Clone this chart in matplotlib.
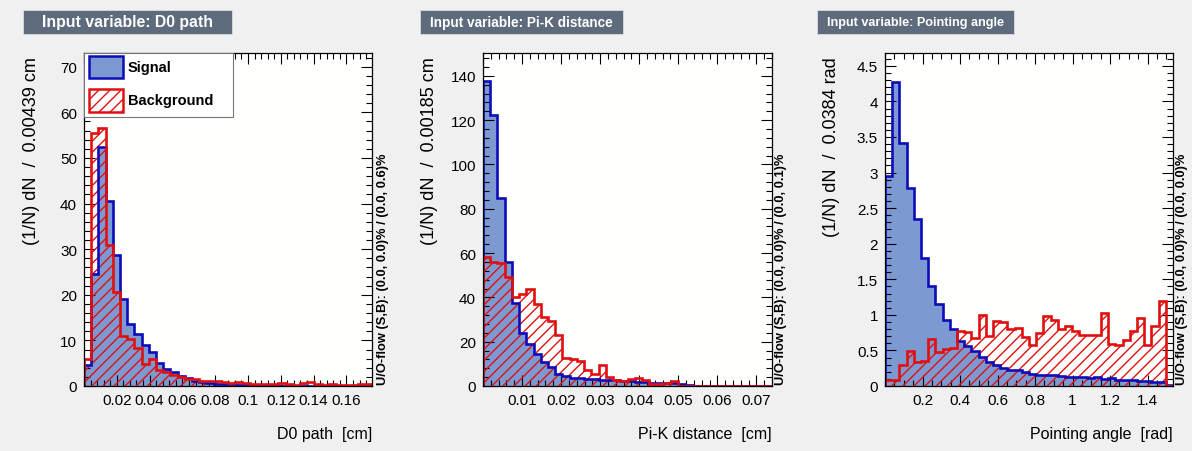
import numpy as np
import matplotlib
matplotlib.use("Agg")
import matplotlib.pyplot as plt
from matplotlib.patches import Rectangle
from matplotlib.ticker import MultipleLocator, FuncFormatter

plt.rcParams['font.family'] = ['Liberation Sans', 'DejaVu Sans']
plt.rcParams['hatch.linewidth'] = 1.0

# ---------------- data ----------------
titles = ["Input variable: D0 path", "Input variable: Pi-K distance",
          "Input variable: Pointing angle"]
xlabels = ["D0 path  [cm]", "Pi-K distance  [cm]", "Pointing angle  [rad]"]
ylabels = ["(1/N) dN  /  0.00439 cm", "(1/N) dN  /  0.00185 cm",
           "(1/N) dN  /  0.0384 rad"]
uoflow = ["U/O-flow (S,B): (0.0, 0.0)% / (0.0, 0.6)%",
          "U/O-flow (S,B): (0.0, 0.0)% / (0.0, 0.1)%",
          "U/O-flow (S,B): (0.0, 0.0)% / (0.0, 0.0)%"]
legend_labels = ["Signal", "Background"]

x_min = [0.0, 0.0, 0.0]
bin_width = [0.00439, 0.00185, 0.0384]

d0_signal = [4.5, 24.5, 52.5, 40.5, 28.7, 19, 13.6, 11.3, 9, 7.4,
             5.0, 3.8, 3.0, 2.3, 1.8, 1.2, 0.9, 0.7, 0.5, 0.5,
             0.4, 0.3, 0.3, 0.2, 0.2, 0.15, 0.15, 0.1, 0.1, 0.1,
             0.1, 0.08, 0.05, 0.05, 0.05, 0.05, 0.03, 0.03, 0.02, 0.02]
d0_background = [6, 55.5, 56.5, 31, 20.5, 11, 10.3, 8.3, 4.8, 6.0,
                 3.5, 3.0, 2.5, 2.0, 1.5, 1.5, 1.2, 1.0, 1.0, 0.8,
                 0.7, 0.8, 0.6, 0.5, 0.5, 0.4, 0.5, 0.6, 0.4, 0.3,
                 0.6, 0.8, 0.5, 0.3, 0.4, 0.3, 0.3, 0.2, 0.5, 0.4]

pik_signal = [137.5, 122.5, 85, 56, 37.5, 24, 19, 14.5, 11, 8.5,
              5.5, 4.5, 3.8, 3.5, 3.2, 3.0, 2.8, 2.7, 2.5, 2.3,
              2.2, 2.0, 1.8, 1.5, 1.4, 1.3, 1.2, 0.8, 0.4, 0.2,
              0.1, 0.1, 0.0, 0.0, 0.0, 0.0, 0.0, 0.0, 0.0, 0.0]
pik_background = [58, 56, 55.5, 49, 40, 41.5, 44, 37, 31, 29.5,
                  23, 12.5, 12, 11.5, 7, 5.5, 9.5, 4, 2.5, 2.2,
                  3, 3.5, 2.5, 1, 1, 1.2, 2.3, 0, 0, 0,
                  0, 0, 0, 0, 0, 0, 0, 0, 0, 0]

angle_signal = [2.95, 4.27, 3.42, 2.78, 2.35, 1.80, 1.41, 1.15, 0.93, 0.80,
                0.63, 0.56, 0.49, 0.41, 0.34, 0.30, 0.26, 0.23, 0.22, 0.19,
                0.17, 0.16, 0.16, 0.15, 0.14, 0.13, 0.13, 0.12, 0.11, 0.12,
                0.10, 0.11, 0.09, 0.08, 0.08, 0.07, 0.07, 0.06, 0.06, 0.02]
angle_background = [0.08, 0.08, 0.30, 0.49, 0.34, 0.35, 0.66, 0.48, 0.52, 0.53,
                    0.77, 0.76, 0.68, 1.00, 0.70, 0.91, 0.90, 0.80, 0.81, 0.69,
                    0.57, 0.75, 0.99, 0.93, 0.80, 0.84, 0.77, 0.71, 0.71, 0.71,
                    1.03, 0.59, 0.57, 0.65, 0.77, 0.95, 0.57, 0.84, 1.20, 0.0]

signals = [d0_signal, pik_signal, angle_signal]
backgrounds = [d0_background, pik_background, angle_background]

y_top = [73, 150.3, 4.68]
x_major = [0.02, 0.01, 0.2]
x_minor = [0.004, 0.002, 0.05]
y_major = [10, 20, 0.5]
y_minor = [2, 4, 0.1]

# ---------------- style ----------------
c_canvas = '#f0f0f0'
c_frame = '#fffffd'
c_sig_fill = '#7d99d1'
c_sig_line = '#0d0db8'
c_bkg = '#e01010'
c_title_box = '#5d6b7d'

W, H = 1192, 452
fig = plt.figure(figsize=(W / 100, H / 100), dpi=100, facecolor=c_canvas)

ax_px = [(84, 54, 288, 333), (483, 54, 289, 333), (885, 54, 288, 333)]
title_box_px = [(23, 209), (420, 203), (817, 197)]
title_text_px = [173, 184, 178]
uo_offset_px = [11, 9, 9]
ylabel_x_px = [32, 430, 832]


def fmt(v, _):
    if abs(v) < 1e-12:
        return '0'
    return '%g' % round(v, 6)


def xfmt(v, _):
    if abs(v) < 1e-12:
        return ''
    return '%g' % round(v, 6)


axes = []
for i in range(3):
    x, y, w, h = ax_px[i]
    ax = fig.add_axes([x / W, 1 - (y + h) / H, w / W, h / H])
    axes.append(ax)
    ax.set_facecolor(c_frame)
    nb = len(signals[i])
    edges = x_min[i] + bin_width[i] * np.arange(nb + 1)
    sig = np.array(signals[i], dtype=float)
    bkg = np.array(backgrounds[i], dtype=float)

    ax.stairs(sig, edges, fill=True, facecolor=c_sig_fill, edgecolor='none',
              linewidth=0, zorder=1)
    ax.stairs(bkg, edges, fill=True, facecolor='none', edgecolor=c_bkg,
              hatch='///', linewidth=0, zorder=2)
    ax.stairs(sig, edges, baseline=0, fill=False, color=c_sig_line,
              linewidth=1.9, zorder=3)
    ax.stairs(bkg, edges, baseline=0, fill=False, color=c_bkg,
              linewidth=1.9, zorder=4)

    ax.set_xlim(edges[0], edges[-1])
    ax.set_ylim(0, y_top[i])

    ax.xaxis.set_major_locator(MultipleLocator(x_major[i]))
    ax.xaxis.set_minor_locator(MultipleLocator(x_minor[i]))
    ax.yaxis.set_major_locator(MultipleLocator(y_major[i]))
    ax.yaxis.set_minor_locator(MultipleLocator(y_minor[i]))
    ax.xaxis.set_major_formatter(FuncFormatter(xfmt))
    ax.yaxis.set_major_formatter(FuncFormatter(fmt))
    ax.tick_params(which='both', direction='in', top=True, right=True,
                   width=0.8, colors='black', labelsize=11)
    ax.tick_params(which='major', length=8, pad=5)
    ax.tick_params(which='minor', length=4)
    for sp in ax.spines.values():
        sp.set_linewidth(0.9)
        sp.set_zorder(6)

    ax.set_xlabel(xlabels[i], fontsize=11.5, ha='right', va='center')
    ax.xaxis.set_label_coords(1.0, -48 / h)
    ax.set_ylabel(ylabels[i], fontsize=13, ha='right', va='center')
    ax.yaxis.set_label_coords((ylabel_x_px[i] - x) / w, 0.99)

    ax.text(1 + uo_offset_px[i] / w, 0.005, uoflow[i], transform=ax.transAxes,
            rotation=90, ha='center', va='bottom', fontsize=9.3,
            fontweight='bold')

# legend in first panel (drawn as annotation)
ax = axes[0]
x, y, w, h = ax_px[0]


def ax_rect(x0, y0, x1, y1):
    return ((x0 - x) / w, (y + h - y1) / h, (x1 - x0) / w, (y1 - y0) / h)


bx, by, bw, bh = ax_rect(84, 54, 233, 118)
ax.add_patch(Rectangle((bx, by), bw, bh, transform=ax.transAxes,
                       facecolor='white', edgecolor='#777777', linewidth=0.8,
                       zorder=7, clip_on=False))
sx, sy, sw, sh = ax_rect(89, 57, 123, 79)
ax.add_patch(Rectangle((sx, sy), sw, sh, transform=ax.transAxes,
                       facecolor=c_sig_fill, edgecolor=c_sig_line,
                       linewidth=1.8, zorder=8))
kx, ky, kw, kh = ax_rect(89, 90, 123, 113)
ax.add_patch(Rectangle((kx, ky), kw, kh, transform=ax.transAxes,
                       facecolor='white', edgecolor=c_bkg, hatch='///',
                       linewidth=1.8, zorder=8))
ax.text((128 - x) / w, sy + sh / 2, legend_labels[0], transform=ax.transAxes,
        ha='left', va='center', fontsize=10.5, fontweight='bold', zorder=9)
ax.text((128 - x) / w, ky + kh / 2, legend_labels[1], transform=ax.transAxes,
        ha='left', va='center', fontsize=10.5, fontweight='bold', zorder=9)

# title boxes (fixed-size panes, text scaled to fit as ROOT does)
fig.canvas.draw()
renderer = fig.canvas.get_renderer()
for i in range(3):
    left, bwid = title_box_px[i]
    top, bottom = 11, 35
    t = fig.text(0, 0, titles[i], fontsize=11.5, fontweight='bold',
                 color='white', ha='center', va='center', zorder=5)
    bb = t.get_window_extent(renderer)
    t.set_fontsize(11.5 * title_text_px[i] / bb.width)
    fig.patches.append(Rectangle((left / W, 1 - bottom / H), bwid / W,
                                 (bottom - top) / H, transform=fig.transFigure,
                                 facecolor=c_title_box, edgecolor='#dcdcdc',
                                 linewidth=0.6, zorder=1))
    t.set_position(((left + bwid / 2) / W, 1 - (top + bottom) / 2 / H))

fig.savefig('out.png', dpi=100, facecolor=c_canvas)
